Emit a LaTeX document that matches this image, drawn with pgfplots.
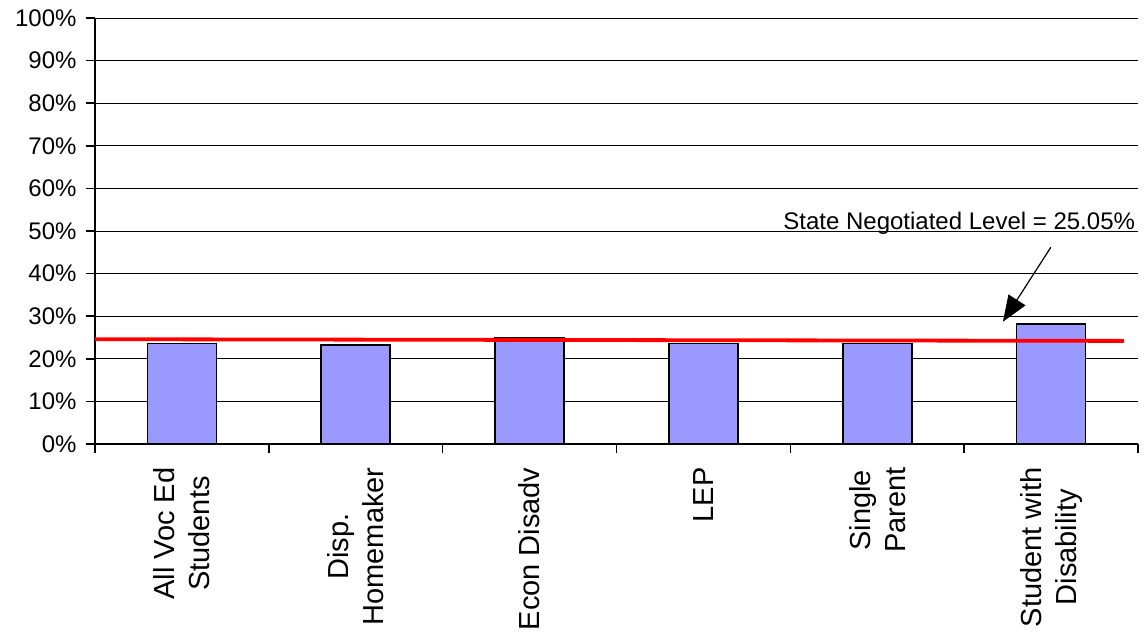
\documentclass[border=0pt]{standalone}
\usepackage{pgfplots}
\pgfplotsset{compat=1.18}
\usetikzlibrary{arrows.meta}
\usepackage{fontspec}
\setmainfont{Liberation Sans}
\begin{document}
\begin{tikzpicture}[x=1pt,y=1pt]
\useasboundingbox (0,0) rectangle (1145,635);
\begin{axis}[
  at={(95pt,191pt)}, anchor=south west,
  scale only axis, width=1043pt, height=426pt,
  xmin=-0.5, xmax=5.5, ymin=0, ymax=100,
  axis lines*=left,
  axis line style={line width=2pt, black},
  ymajorgrids, grid style={black, line width=0.9pt},
  ytick={0,10,...,100},
  yticklabels={0\%,10\%,20\%,30\%,40\%,50\%,60\%,70\%,80\%,90\%,100\%},
  yticklabel style={font=\fontsize{24}{28}\selectfont, xshift=-6pt},
  tick align=outside, major tick length=9pt,
  tick style={black, line width=1.6pt},
  xtick={-0.5,0.5,...,5.5}, xticklabels={},
  extra x ticks={0,1,2,3,4,5},
  extra x tick labels={{All Voc Ed\\Students},{Disp.\\Homemaker},{Econ Disadv},{LEP},{Single\\Parent},{Student with\\Disability}},
  extra x tick style={major tick length=0pt, grid=none},
  xticklabel style={rotate=90, anchor=east, align=center, font=\fontsize{29}{35}\selectfont, xshift=-20pt},
  clip=false,
]
\addplot[ybar, bar width=69pt, fill={rgb,255:red,153;green,153;blue,255}, draw=black, line width=1.6pt]
  coordinates {(0,23.6) (1,23.2) (2,25.0) (3,23.6) (4,23.6) (5,28.2)};
\addplot[red, line width=3.8pt] coordinates {(-0.5,24.6) (5.42,24.2)};
\draw[black, line width=1.2pt, -{Triangle[length=26pt,width=20pt]}] (axis cs:4.999,46.2) -- (axis cs:4.723,28.7);
\node[anchor=base east, inner sep=0pt, font=\fontsize{24}{28}\selectfont] at (axis cs:5.484,50.3) {State Negotiated Level = 25.05\%};
\end{axis}
\end{tikzpicture}
\end{document}
